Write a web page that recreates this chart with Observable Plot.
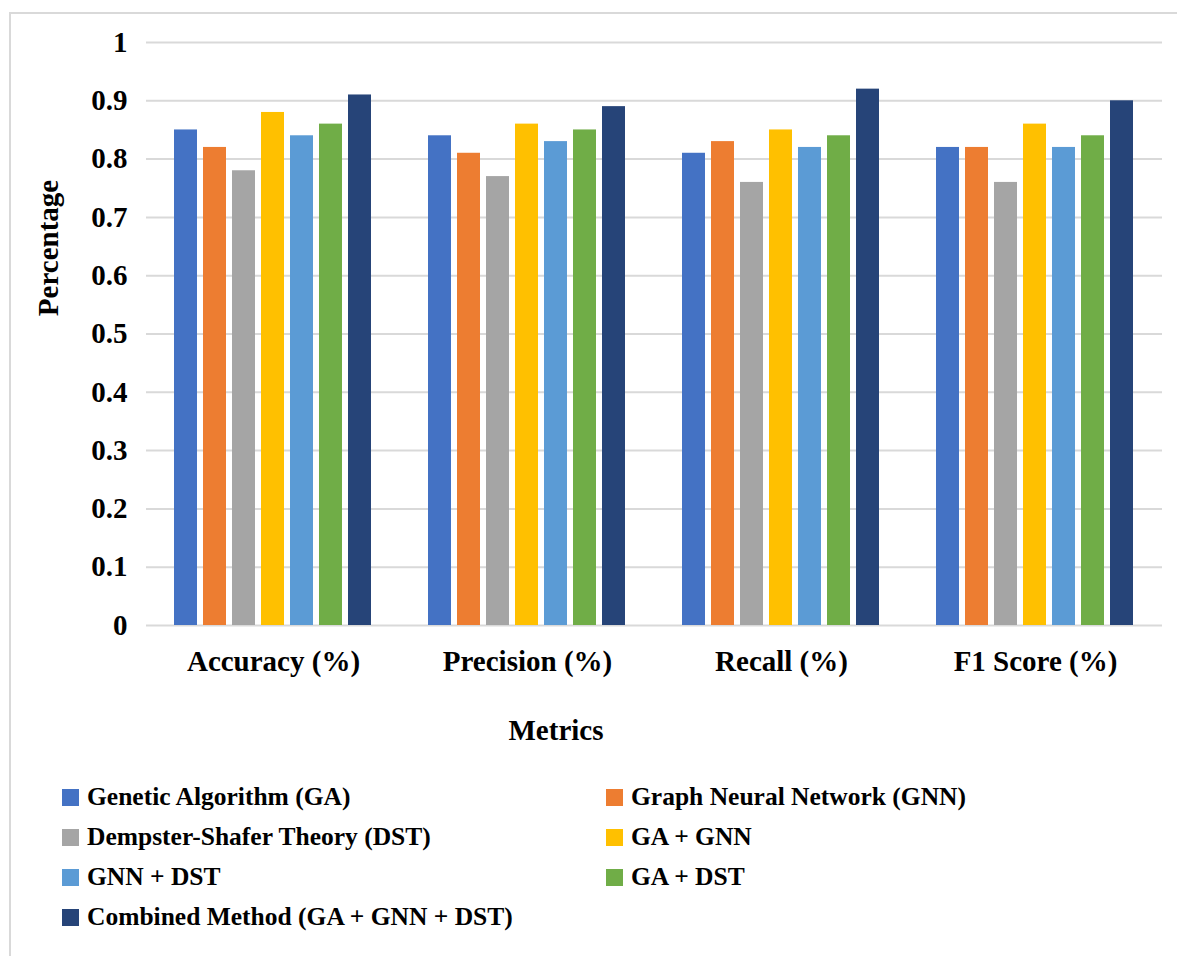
<!DOCTYPE html>
<html>
<head>
<meta charset="utf-8">
<script src="https://cdn.jsdelivr.net/npm/d3@7"></script>
<script src="https://cdn.jsdelivr.net/npm/@observablehq/plot@0.6"></script>
<style>
  html, body { margin: 0; padding: 0; background: #fff; }
  #wrap { position: relative; width: 1177px; height: 956px; overflow: hidden; font-family: "Liberation Serif", "Times New Roman", serif; font-weight: bold; color: #000; }
  #border { position: absolute; left: 9px; top: 12px; width: 1200px; height: 1000px; border-top: 2px solid #d9d9d9; border-left: 2px solid #d9d9d9; }
  #chart { position: absolute; left: 0; top: 0; }
  #ylab { position: absolute; left: 48px; top: 248px; font-size: 29px; transform: translate(-50%, -50%) rotate(-90deg); white-space: nowrap; }
  #xlab { position: absolute; left: 556px; top: 730px; font-size: 29px; transform: translate(-50%, -50%); white-space: nowrap; }
  #legend { position: absolute; left: 62px; top: 777px; display: grid; grid-template-columns: 544px 520px; row-gap: 0; font-size: 25.5px; }
  .item { display: flex; align-items: center; height: 40px; white-space: nowrap; }
  .sw { width: 17px; height: 17px; margin-right: 8px; flex: none; }
</style>
</head>
<body>
<div id="wrap">
  <div id="border"></div>
  <div id="chart"></div>
  <div id="ylab">Percentage</div>
  <div id="xlab">Metrics</div>
  <div id="legend"></div>
</div>
<script>
const metrics = ["Accuracy (%)", "Precision (%)", "Recall (%)", "F1 Score (%)"];
const series = [
  "Genetic Algorithm (GA)",
  "Graph Neural Network (GNN)",
  "Dempster-Shafer Theory (DST)",
  "GA + GNN",
  "GNN + DST",
  "GA + DST",
  "Combined Method (GA + GNN + DST)"
];
const colors = ["#4472C4", "#ED7D31", "#A5A5A5", "#FFC000", "#5B9BD5", "#70AD47", "#264478"];
// one array per series, values in metric order
const gaValues       = [0.85, 0.84, 0.81, 0.82];
const gnnValues      = [0.82, 0.81, 0.83, 0.82];
const dstValues      = [0.78, 0.77, 0.76, 0.76];
const gaGnnValues    = [0.88, 0.86, 0.85, 0.86];
const gnnDstValues   = [0.84, 0.83, 0.82, 0.82];
const gaDstValues    = [0.86, 0.85, 0.84, 0.84];
const combinedValues = [0.91, 0.89, 0.92, 0.90];
const yTicks = [0, 0.1, 0.2, 0.3, 0.4, 0.5, 0.6, 0.7, 0.8, 0.9, 1];

const allValues = [gaValues, gnnValues, dstValues, gaGnnValues, gnnDstValues, gaDstValues, combinedValues];
const data = [];
metrics.forEach((m, mi) => {
  series.forEach((s, si) => {
    data.push({metric: m, series: s, value: allValues[si][mi]});
  });
});

const chart = Plot.plot({
  width: 1177,
  height: 700,
  marginTop: 42,
  marginLeft: 145,
  marginRight: 14,
  marginBottom: 75,
  style: {fontFamily: "'Liberation Serif', 'Times New Roman', serif", fontWeight: "bold", fontSize: "29px", color: "#000", background: "transparent"},
  fx: {domain: metrics, padding: 0, label: null},
  x: {domain: series, paddingInner: 0.2, paddingOuter: 0.85, axis: null},
  y: {domain: [0, 1], label: null},
  color: {domain: series, range: colors},
  marks: [
    Plot.ruleY(yTicks, {y: d => d, stroke: "#d9d9d9", strokeWidth: 2}),
    Plot.barY(data, {fx: "metric", x: "series", y: "value", fill: "series"}),
    Plot.axisY({ticks: yTicks, tickFormat: d => String(+d.toFixed(1)), tickSize: 0, tickPadding: 19, label: null}),
    Plot.axisFx({anchor: "bottom", tickSize: 0, tickPadding: 25, label: null})
  ]
});
document.getElementById("chart").appendChild(chart);

const legend = document.getElementById("legend");
series.forEach((s, i) => {
  const item = document.createElement("div");
  item.className = "item";
  const sw = document.createElement("span");
  sw.className = "sw";
  sw.style.background = colors[i];
  const t = document.createElement("span");
  t.textContent = s;
  item.appendChild(sw);
  item.appendChild(t);
  legend.appendChild(item);
});
</script>
</body>
</html>
